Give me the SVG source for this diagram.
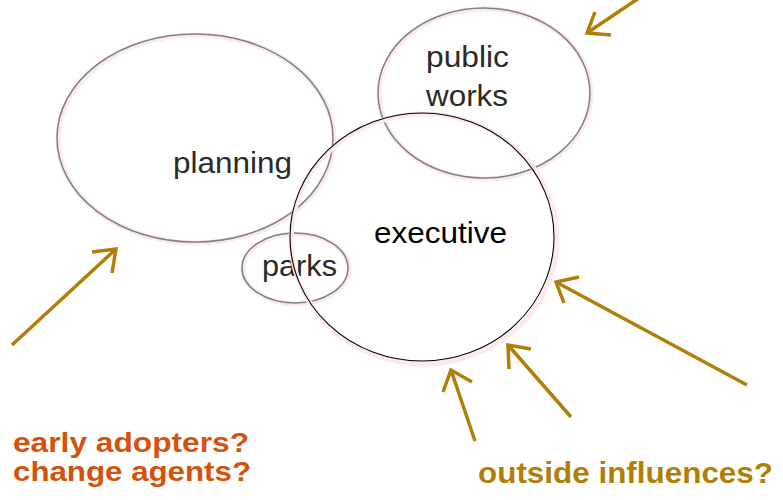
<svg xmlns="http://www.w3.org/2000/svg" width="783" height="500" viewBox="0 0 783 500">
<style>
.glow{fill:none;stroke:#fbe9ec;stroke-width:5}
.node{fill:none;stroke:#808080;stroke-width:1.5}
.exec{fill:none;stroke:#000;stroke-width:1.1}
.lbl{font-family:"Liberation Sans",Arial,sans-serif;font-size:30px;fill:#2a2a2a}
.arrow{fill:none;stroke:#b07f0a;stroke-width:3.5;stroke-linecap:butt;stroke-linejoin:miter}
.q{font-family:"Liberation Sans",Arial,sans-serif;font-size:30px;font-weight:bold}
.q2{font-family:"Liberation Sans",Arial,sans-serif;font-size:27px;font-weight:bold;fill:#d4520c}
</style>
<rect width="783" height="500" fill="#fff"/>
<g id="planning">
<ellipse class="glow" cx="196" cy="139" rx="138" ry="104"/>
<ellipse class="node" cx="195" cy="138" rx="138" ry="104"/>
<text class="lbl" x="173" y="173" textLength="119" lengthAdjust="spacingAndGlyphs">planning</text>
</g>
<g id="public-works">
<ellipse class="glow" cx="485" cy="94" rx="106" ry="85"/>
<ellipse class="node" cx="484" cy="93" rx="106" ry="85"/>
<text class="lbl" x="426" y="67" textLength="83" lengthAdjust="spacingAndGlyphs">public</text>
<text class="lbl" x="426" y="106" textLength="82" lengthAdjust="spacingAndGlyphs">works</text>
</g>
<g id="parks">
<ellipse class="glow" cx="296" cy="269" rx="53" ry="35"/>
<ellipse class="node" cx="295" cy="268" rx="53" ry="35"/>
<text class="lbl" x="262" y="276" textLength="75" lengthAdjust="spacingAndGlyphs">parks</text>
</g>
<g id="executive">
<ellipse class="glow" cx="424" cy="239" rx="133" ry="125"/>
<ellipse class="exec" cx="422" cy="237" rx="132" ry="124"/>
<text class="lbl" x="374" y="243" textLength="133" lengthAdjust="spacingAndGlyphs" style="fill:#000">executive</text>
</g>
<g id="connectors">
<path class="arrow" d="M12,345 L116,249 M92,252 L116,249 L112,273"/>
<path class="arrow" d="M639,-2 L587,33 M595,12 L587,33 L611,35"/>
<path class="arrow" d="M747,385 L556,282 M579,277 L556,282 L564,303"/>
<path class="arrow" d="M571,417 L508,345 M531,349 L508,345 L509,369"/>
<path class="arrow" d="M475,441 L451,370 M443,392 L451,370 L472,382"/>
</g>
<g id="early-adopters">
<text class="q2" x="13" y="452" textLength="236" lengthAdjust="spacingAndGlyphs">early adopters?</text>
<text class="q2" x="13" y="481" textLength="238" lengthAdjust="spacingAndGlyphs">change agents?</text>
</g>
<g id="outside-influences">
<text class="q" x="478" y="483" fill="#b07f0a" textLength="295" lengthAdjust="spacingAndGlyphs">outside influences?</text>
</g>
</svg>
